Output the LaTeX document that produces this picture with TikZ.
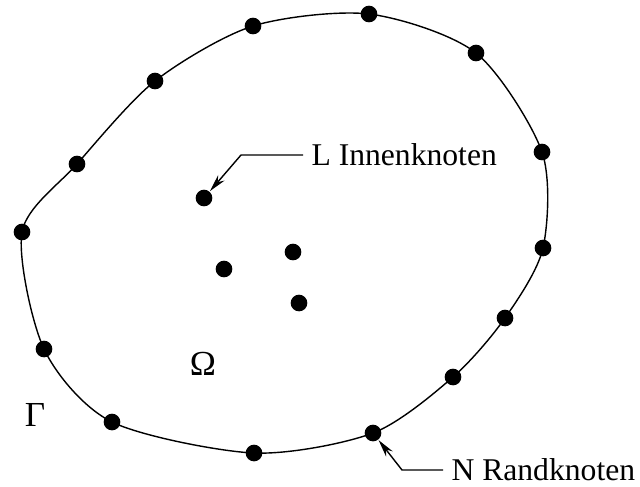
\documentclass[tikz,border=0pt]{standalone}
\usepackage{fontspec}
\setmainfont{Liberation Serif}
\usetikzlibrary{arrows.meta}

\begin{document}
\begin{tikzpicture}[x=0.015cm,y=-0.015cm,line width=0.6pt,>={Stealth[length=7.5pt,width=3.6pt]},
  punkt/.style={circle,fill,inner sep=0pt,minimum size=0.25cm},
  lbl/.style={font=\fontsize{13.5}{16}\selectfont},
  grk/.style={font=\fontsize{15}{18}\selectfont}]
  \useasboundingbox (0,0) rectangle (640,486);
  % --- Rand ---
  \foreach \x/\y [count=\i] in {369/14,476/53,542/152,543/248,505/318,453/377,373/433,
    254/453,112/422,44/349,22/232,77/164,155/81,253/26}
    \coordinate (r\i) at (\x,\y);
  \draw plot[smooth cycle,tension=0.48] coordinates {(r1) (r2) (r3) (r4) (r5) (r6) (r7) (r8) (r9) (r10) (r11) (r12) (r13) (r14)};
  \foreach \i in {1,...,14} \node[punkt] (k\i) at (r\i) {};
  % --- Innenknoten ---
  \node[punkt] (i1) at (204,198) {};
  \node[punkt] (i2) at (293,252) {};
  \node[punkt] (i3) at (224,269) {};
  \node[punkt] (i4) at (299,303) {};
  % --- Beschriftung ---
  \node[grk] (omega) at (203,364) {Ω};
  \node[grk] (gamma) at (35,415) {Γ};
  \node[lbl,anchor=west] (innen) at (303,155) {L Innenknoten};
  \node[lbl,anchor=west] (rand) at (443,470) {N Randknoten};
  \draw[->] (innen.west) -- ++(-62,0) -- (i1);
  \draw[->] (rand.west) -- ++(-41,0) -- (k7);
\end{tikzpicture}
\end{document}
